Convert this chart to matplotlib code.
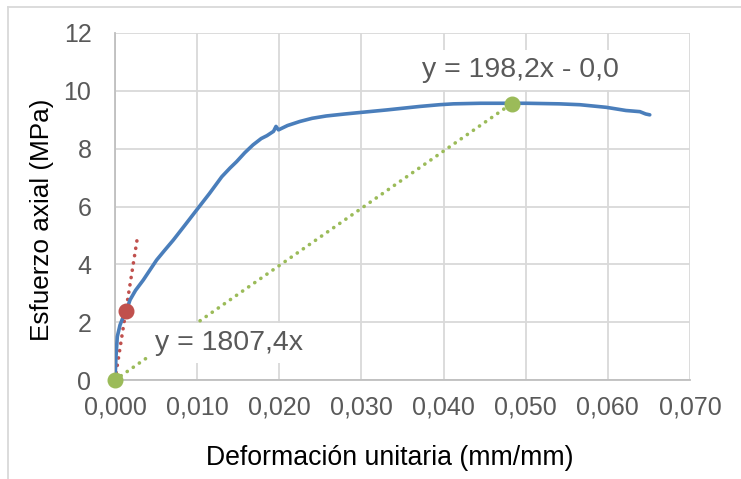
import matplotlib
matplotlib.use("Agg")
import matplotlib.pyplot as plt
from matplotlib.lines import Line2D
import numpy as np

plt.rcParams['font.family'] = ['Liberation Sans', 'DejaVu Sans']

# Stress-strain curve
strain = [0.0, 0.00012, 0.00028, 0.00061, 0.00101, 0.00134, 0.00183, 0.0025, 0.00345,
          0.0042, 0.00507, 0.0060, 0.0071, 0.0085, 0.00994, 0.0115, 0.0130, 0.0140, 0.0148,
          0.0158, 0.0168, 0.0178, 0.0185, 0.0193, 0.0196, 0.0199, 0.0210, 0.0225, 0.0240,
          0.0257, 0.0280, 0.0298, 0.0331, 0.0371, 0.0395, 0.0412, 0.0445, 0.0472, 0.0501,
          0.0541, 0.0566, 0.0598, 0.0622, 0.0639, 0.0646, 0.0651]
stress = [0.0, 0.8, 1.5, 1.9, 2.19, 2.36, 2.77, 3.1, 3.46,
          3.78, 4.15, 4.47, 4.84, 5.35, 5.88, 6.45, 7.03, 7.33, 7.55,
          7.86, 8.13, 8.35, 8.45, 8.6, 8.77, 8.65, 8.8, 8.94, 9.05,
          9.13, 9.2, 9.25, 9.34, 9.46, 9.52, 9.55, 9.57, 9.57, 9.57,
          9.55, 9.52, 9.43, 9.32, 9.28, 9.2, 9.17]

# Trendlines
red_x = [0.0, 0.00277]
red_y = [0.0, 5.0]
red_pt_x = [0.00134]
red_pt_y = [2.40]
green_x = [0.0, 0.0483]
green_y = [0.0, 9.56]
green_pt_x = [0.0, 0.0483]
green_pt_y = [0.0, 9.56]

xticks = [0.0, 0.01, 0.02, 0.03, 0.04, 0.05, 0.06, 0.07]
xtick_labels = ['0,000', '0,010', '0,020', '0,030', '0,040', '0,050', '0,060', '0,070']
yticks = [0, 2, 4, 6, 8, 10, 12]

W, H = 741, 479
fig = plt.figure(figsize=(W / 100, H / 100), dpi=100)
ax = fig.add_axes([115 / W, 1 - 380 / H, (690 - 115) / W, (380 - 33) / H])

blue = '#4A7EBB'
red = '#C0504D'
green = '#9BBB59'

ax.plot(strain, stress, color=blue, lw=2.6, zorder=4, solid_capstyle='round',
        solid_joinstyle='round')
ax.plot(red_x, red_y, color=red, lw=2.6, ls=(0, (0.05, 2.0)), dash_capstyle='round', zorder=3)
ax.plot(green_x, green_y, color=green, lw=2.6, ls=(0, (0.05, 2.0)), dash_capstyle='round', zorder=3)
ax.plot(red_pt_x, red_pt_y, 'o', color=red, ms=10.5, zorder=5)
ax.plot(green_pt_x, green_pt_y, 'o', color=green, ms=10.5, zorder=5, clip_on=False)

ax.set_xlim(0, 0.07)
ax.set_ylim(0, 12)
ax.set_xticks(xticks)
ax.set_xticklabels(xtick_labels)
ax.set_yticks(yticks)
ax.grid(True, color='#D9D9D9', lw=1.3, zorder=0)
ax.set_axisbelow(True)
for s in ['top', 'right']:
    ax.spines[s].set_visible(False)
for s in ['left', 'bottom']:
    ax.spines[s].set_color('#BFBFBF')
    ax.spines[s].set_linewidth(1.3)
ax.tick_params(axis='both', length=0, labelsize=18, labelcolor='#595959')
ax.tick_params(axis='y', pad=17)
ax.tick_params(axis='x', pad=11)

fig.text(390 / W, 1 - 458 / H, 'Deformación unitaria (mm/mm)', fontsize=19.2,
         ha='center', va='center', color='black')
fig.text(42 / W, 1 - 220 / H, 'Esfuerzo axial (MPa)', fontsize=18.8, rotation=90,
         ha='center', va='center', color='black')

bb = dict(boxstyle='square,pad=0.25', fc='white', ec='none')
fig.text(229 / W, 1 - 343 / H, 'y = 1807,4x', fontsize=20.5, color='#595959',
         ha='center', va='center', bbox=bb, zorder=6)
fig.text(520 / W, 1 - 70 / H, 'y = 198,2x - 0,0', fontsize=20.5, color='#595959',
         ha='center', va='center', bbox=bb, zorder=6)

# chart area border (top and left visible)
fig.add_artist(Line2D([8 / W, 1], [1 - 7 / H, 1 - 7 / H], color='#D9D9D9', lw=1.3))
fig.add_artist(Line2D([8 / W, 8 / W], [0, 1 - 7 / H], color='#D9D9D9', lw=1.3))

fig.savefig('out.png', dpi=100)
